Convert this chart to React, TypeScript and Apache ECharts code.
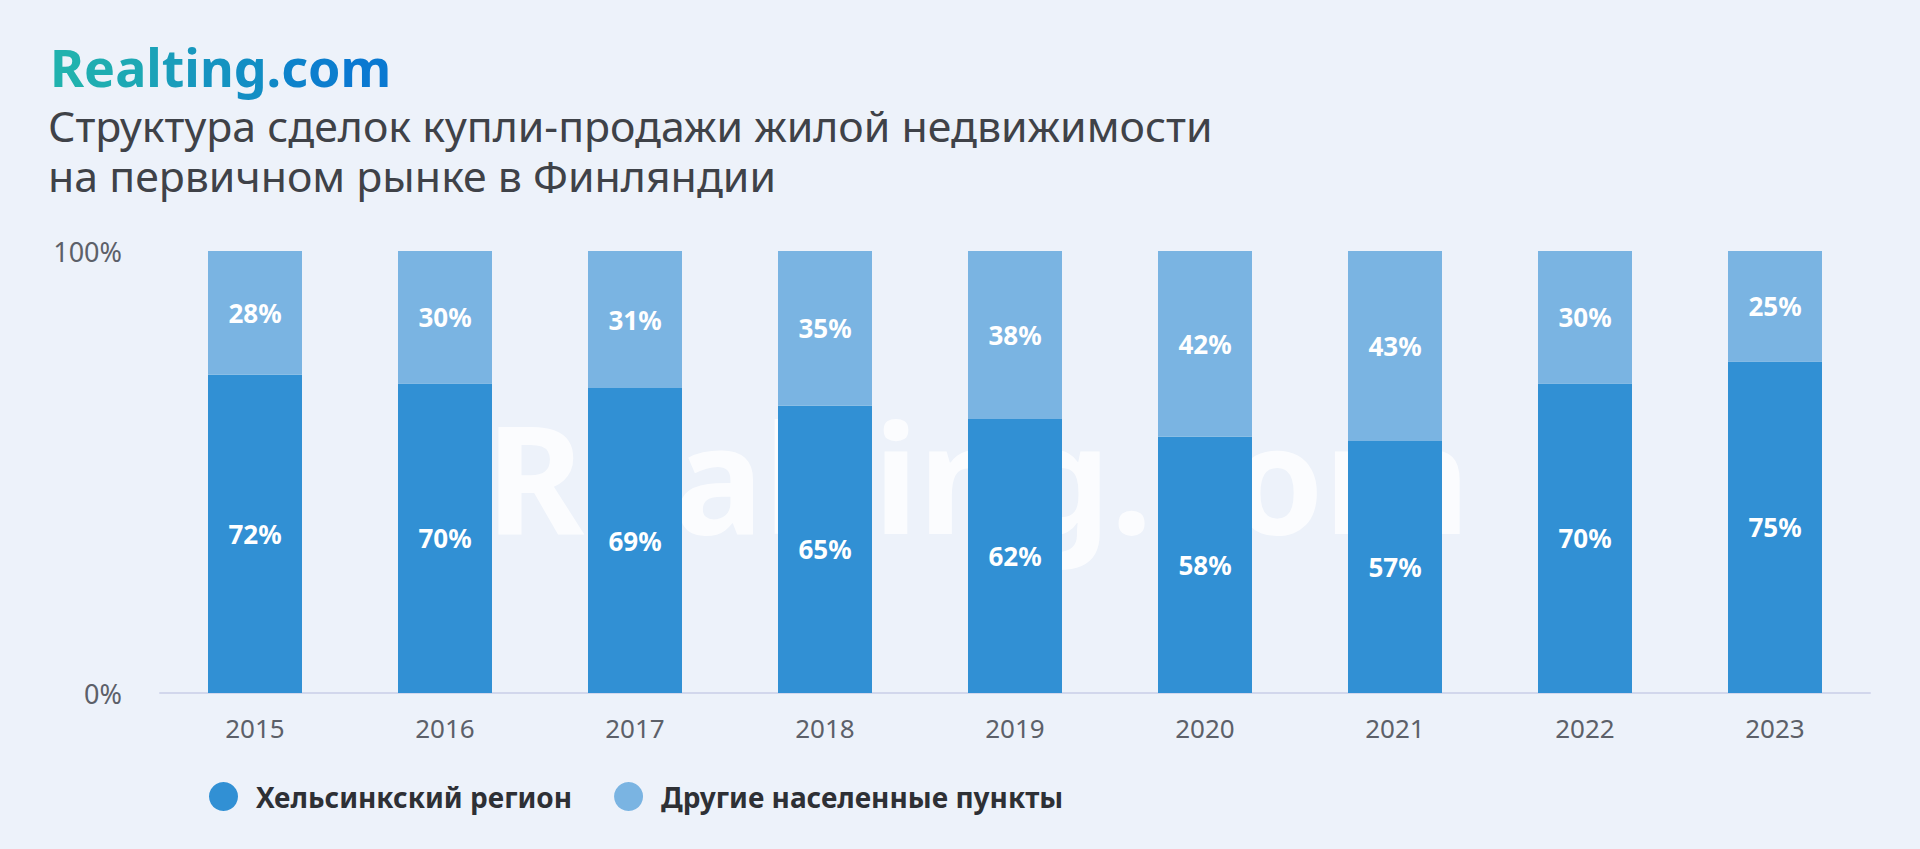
import React, { useEffect, useRef } from "react";
import * as echarts from "echarts";

const years = ["2015", "2016", "2017", "2018", "2019", "2020", "2021", "2022", "2023"];
const helsinki = [72, 70, 69, 65, 62, 58, 57, 70, 75];
const others = [28, 30, 31, 35, 38, 42, 43, 30, 25];
const seriesNames = ["Хельсинкский регион", "Другие населенные пункты"];
const titleLines = [
  "Структура сделок купли-продажи жилой недвижимости",
  "на первичном рынке в Финляндии",
];
const logoText = "Realting.com";

const FONT = "'Noto Sans', 'Open Sans', sans-serif";

function mix(a: number[], b: number[], t: number) {
  const c = a.map((v, i) => Math.round(v + (b[i] - v) * t));
  return `rgb(${c[0]},${c[1]},${c[2]})`;
}

function buildLogo() {
  const start = [0x21, 0xb2, 0xae];
  const end = [0x0a, 0x79, 0xd1];
  const chars = logoText.split("");
  const rich: Record<string, any> = {};
  let text = "";
  chars.forEach((ch, i) => {
    const key = "c" + i;
    rich[key] = {
      fill: mix(start, end, i / (chars.length - 1)),
      font: `bold 52px ${FONT}`,
    };
    text += `{${key}|${ch}}`;
  });
  return { text, rich };
}

export default function App() {
  const ref = useRef<HTMLDivElement>(null);
  useEffect(() => {
    document.body.style.margin = "0";
    const chart = echarts.init(ref.current!, null, { renderer: "svg" });
    const logo = buildLogo();
    chart.setOption({
      animation: false,
      backgroundColor: "#edf2fa",
      textStyle: { fontFamily: FONT },
      graphic: [
        {
          type: "text",
          left: 50,
          top: 40,
          style: {
            text: logo.text,
            rich: logo.rich,
            font: `bold 52px ${FONT}`,
          },
        },
        {
          type: "text",
          left: 48,
          top: 104,
          style: { text: titleLines[0], font: `42.8px ${FONT}`, fill: "#3f4248" },
        },
        {
          type: "text",
          left: 48,
          top: 154,
          style: { text: titleLines[1], font: `42.8px ${FONT}`, fill: "#3f4248" },
        },
        {
          type: "text",
          x: 978,
          y: 476,
          z: 0,
          style: {
            text: "Realting.com",
            font: `bold 150px ${FONT}`,
            fill: "rgba(255,255,255,0.78)",
            align: "center",
            verticalAlign: "middle",
          },
        },
      ],
      legend: {
        left: 204,
        top: 777,
        icon: "circle",
        itemWidth: 29,
        itemHeight: 29,
        itemGap: 42,
        data: seriesNames,
        textStyle: {
          fontFamily: FONT,
          fontSize: 28,
          fontWeight: "bold",
          color: "#2e3035",
          padding: [0, 0, 0, 13],
        },
      },
      grid: { left: 160, right: 50, top: 251, bottom: 156 },
      xAxis: {
        type: "category",
        data: years,
        axisLine: { lineStyle: { color: "#d2d7ec", width: 2 } },
        axisTick: { show: false },
        axisLabel: { fontFamily: FONT, fontSize: 26, color: "#5c6069", margin: 22 },
      },
      yAxis: {
        type: "value",
        min: 0,
        max: 100,
        interval: 100,
        splitLine: { show: false },
        axisLine: { show: false },
        axisTick: { show: false },
        axisLabel: {
          formatter: "{value}%",
          fontFamily: FONT,
          fontSize: 27,
          color: "#5c6069",
          margin: 38,
        },
      },
      series: [
        {
          name: seriesNames[0],
          type: "bar",
          stack: "total",
          data: helsinki,
          barWidth: 94,
          z: 2,
          itemStyle: { color: "#3190d4" },
          label: {
            show: true,
            position: "inside",
            formatter: "{c}%",
            color: "#ffffff",
            fontFamily: FONT,
            fontSize: 26,
            fontWeight: "bold",
          },
        },
        {
          name: seriesNames[1],
          type: "bar",
          stack: "total",
          data: others,
          barWidth: 94,
          z: 2,
          itemStyle: { color: "#7ab4e2" },
          label: {
            show: true,
            position: "inside",
            formatter: "{c}%",
            color: "#ffffff",
            fontFamily: FONT,
            fontSize: 26,
            fontWeight: "bold",
          },
        },
      ],
    });
    return () => chart.dispose();
  }, []);
  return <div ref={ref} style={{ width: 1920, height: 849 }} />;
}
